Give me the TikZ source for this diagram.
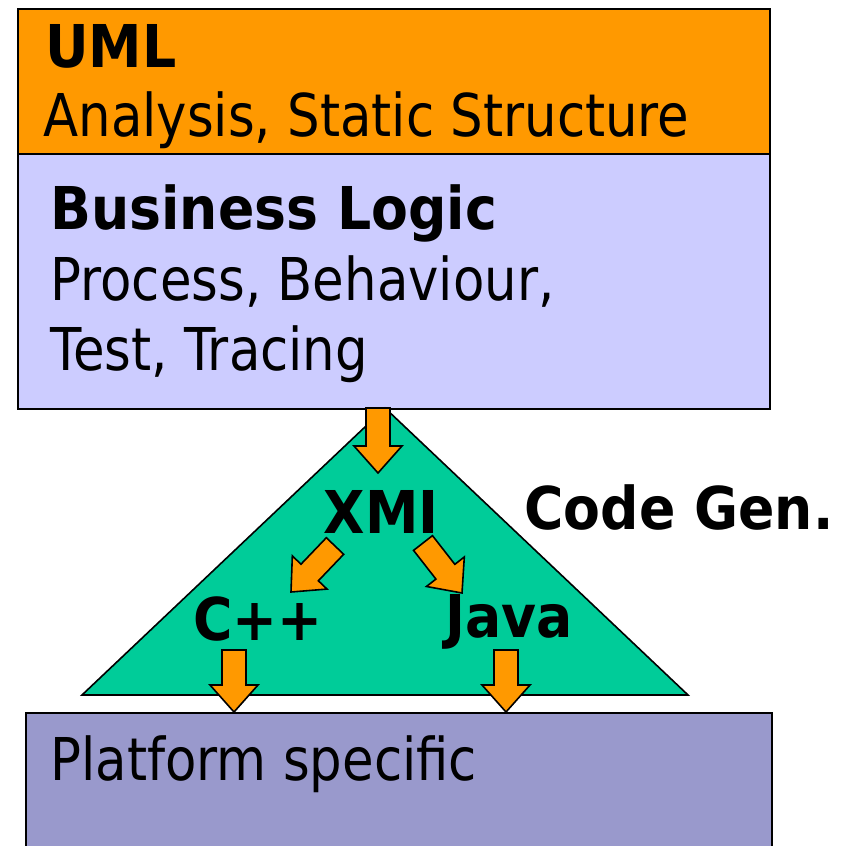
\documentclass[tikz,border=0pt]{standalone}
\usepackage{fontspec}
\setmainfont{DejaVu Sans}[UprightFeatures={FakeStretch=0.87},
  BoldFeatures={FakeStretch=0.91}]
\usetikzlibrary{calc}

\definecolor{umlorange}{HTML}{FF9900}
\definecolor{bizblue}{HTML}{CCCCFF}
\definecolor{gengreen}{HTML}{00CC99}
\definecolor{platblue}{HTML}{9999CC}

% block arrow from #1 to #2
\newcommand{\genarrow}[2]{%
  \draw[blockarr] let \p1=($(#2)-(#1)$), \n1={atan2(\y1,\x1)},
      \n2={veclen(\x1,\y1)-13.5pt} in
    ($(#1)+(\n1+90:6pt)$) -- ($(#1)+(\n1:\n2)+(\n1+90:6pt)$)
    -- ($(#1)+(\n1:\n2)+(\n1+90:12pt)$) -- (#2)
    -- ($(#1)+(\n1:\n2)+(\n1-90:12pt)$) -- ($(#1)+(\n1:\n2)+(\n1-90:6pt)$)
    -- ($(#1)+(\n1-90:6pt)$) -- cycle;}

\begin{document}
\begin{tikzpicture}[x=0.5pt, y=-0.5pt,
  layer/.style={rectangle, draw=black, line width=0.8pt, anchor=north west,
    inner sep=0pt},
  txt/.style={anchor=base west, inner sep=0pt,
    font=\fontsize{29.5}{35}\selectfont},
  hd/.style={txt, font=\fontsize{29.5}{35}\selectfont\bfseries},
  genlbl/.style={anchor=base, inner sep=0pt,
    font=\fontsize{29.5}{35}\selectfont\bfseries},
  blockarr/.style={fill=umlorange, draw=black, line width=0.8pt},
]
\clip (0,0) rectangle (855,845);

% layers
\node[layer, fill=umlorange, minimum width=376pt, minimum height=72.5pt]
  (uml) at (17,8) {};
\node[layer, fill=bizblue, minimum width=376pt, minimum height=127.5pt]
  (biz) at (17,153) {};
\node[layer, fill=platblue, minimum width=373pt, minimum height=140pt]
  (plat) at (25,712) {};

% code generation triangle
\draw[fill=gengreen, line width=0.8pt] (82,695) -- (385,408) -- (688,695) -- cycle;

% texts
\node[hd] (umlhd) at (45,68) {UML};
\node[txt] (umltxt) at (43,137) {Analysis, Static Structure};
\node[hd] (bizhd) at (50,229) {Business Logic};
\node[txt] (biztxt1) at (50,300) {Process, Behaviour,};
\node[txt] (biztxt2) at (50,370) {Test, Tracing};
\node[txt] (plattxt) at (50,780) {Platform specific};

\node[genlbl] (xmi) at (381,533) {XMI};
\node[genlbl] (cpp) at (258,640) {C++};
\node[genlbl] (java) at (509,637) {Java};
\node[genlbl] (codegen) at (679,529) {Code Gen.};

% arrow ends
\coordinate (bizout) at (378,408);
\coordinate (xmiin) at (378,473);
\coordinate (xmileft) at (335,546);
\coordinate (cppin) at (291,592);
\coordinate (xmiright) at (423,543);
\coordinate (javain) at (462,593);
\coordinate (cppout) at (234,650);
\coordinate (platleft) at (234,712);
\coordinate (javaout) at (506,650);
\coordinate (platright) at (506,712);

\genarrow{bizout}{xmiin}
\genarrow{xmileft}{cppin}
\genarrow{xmiright}{javain}
\genarrow{cppout}{platleft}
\genarrow{javaout}{platright}
\end{tikzpicture}
\end{document}
